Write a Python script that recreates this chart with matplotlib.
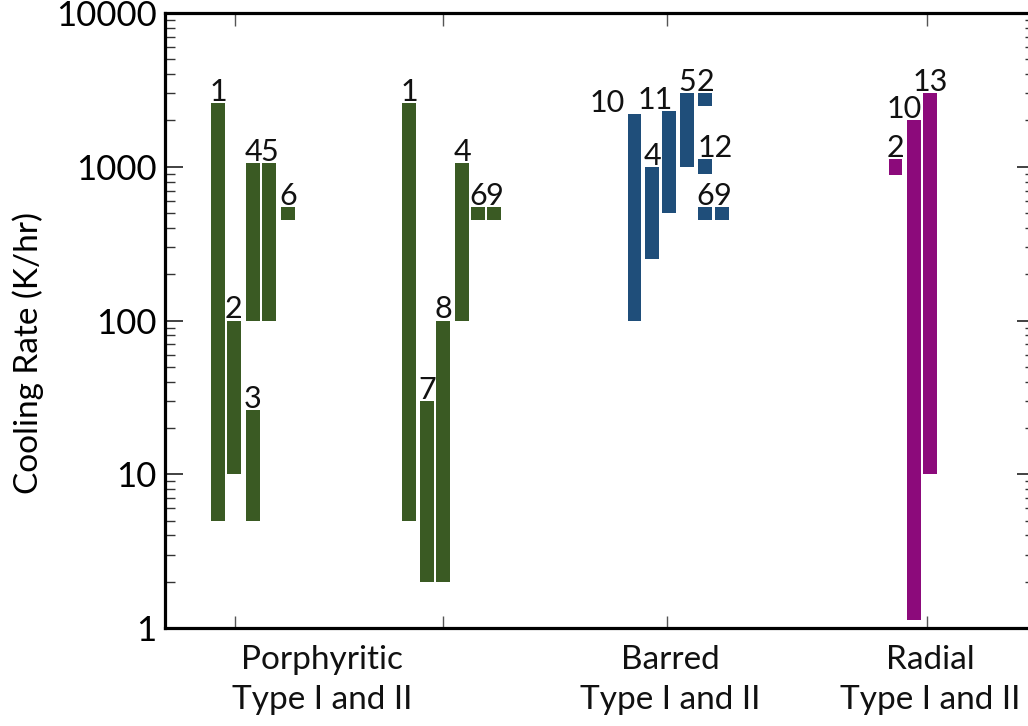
import numpy as np
import matplotlib
matplotlib.use("Agg")
import matplotlib.pyplot as plt
import matplotlib.transforms as mtransforms

plt.rcParams['font.family'] = ['Lato', 'DejaVu Sans']

# porphyritic, first column set
p1_labels = ['1', '2', '3', '4', '5', '6']
p1_low = [5, 10, 5, 100, 100, 450]
p1_high = [2600, 100, 26, 1060, 1060, 550]

# porphyritic, second column set
p2_labels = ['1', '7', '8', '4', '6', '9']
p2_low = [5, 2, 2, 100, 450, 450]
p2_high = [2600, 30, 100, 1060, 550, 550]

# barred
b_labels = ['10', '4', '11', '5', '2', '12', '6', '9']
b_low = [100, 250, 500, 1000, 2500, 900, 450, 450]
b_high = [2200, 1000, 2300, 3000, 3000, 1120, 550, 550]

# radial
r_labels = ['2', '10', '13']
r_low = [880, 1.12, 10]
r_high = [1130, 2000, 3000]

categories = ['Porphyritic\nType I and II', 'Barred\nType I and II', 'Radial\nType I and II']
yticks = [1, 10, 100, 1000, 10000]

# layout (x in axis units)
p1_pos = [218, 234, 253, 253, 269, 288]
p2_pos = [409, 427, 443, 462, 478, 494]
b_pos = [634.5, 652, 669, 687, 705, 705, 705, 722]
r_pos = [895.5, 914, 930]
# label shifts (points)
p1_shift = [0, -0.5, 0, 0, 0, 0]
p2_shift = [0, 0, 0, 0, 0, 0]
b_shift = [-19.5, 0, -10, 0, 0, 7, 0, 0]
r_shift = [0, -7, 0]
xtick_pos = [235, 443, 667, 927]
cat_pos = [322, 670, 930]

green = '#3A5A23'
blue = '#1F4E7A'
magenta = '#8C0A7B'

fig = plt.figure(figsize=(10.28, 7.26), dpi=100)
ax = fig.add_axes([165/1028, 98/726, 870/1028, 615/726])

groups = [
    (p1_labels, p1_low, p1_high, p1_pos, p1_shift, green),
    (p2_labels, p2_low, p2_high, p2_pos, p2_shift, green),
    (b_labels, b_low, b_high, b_pos, b_shift, blue),
    (r_labels, r_low, r_high, r_pos, r_shift, magenta),
]
for labels, lo, hi, pos, shift, col in groups:
    lo = np.array(lo, dtype=float)
    hi = np.array(hi, dtype=float)
    ax.bar(pos, hi - lo, bottom=lo, width=13.5, color=col, linewidth=0)
    for lab, x, top, dx in zip(labels, pos, hi, shift):
        ax.annotate(lab, (x, top), xytext=(dx, 1.5), textcoords='offset points',
                    ha='center', va='baseline', fontsize=22, color='#111111')

ax.set_yscale('log')
ax.set_ylim(1, 10000)
ax.set_xlim(165, 1035)
ax.set_yticks(yticks)
ax.set_yticklabels([str(v) for v in yticks], fontsize=25)
ax.set_xticks(xtick_pos)
ax.set_xticklabels([])

ax.tick_params(axis='y', which='major', direction='in', length=13, width=1.3,
               color='#333333', left=True, right=True, pad=6)
ax.tick_params(axis='y', which='minor', direction='in', length=7, width=1.0,
               color='#333333', left=True, right=True)
ax.tick_params(axis='x', which='major', direction='in', length=9, width=1.0,
               color='#555555', top=True, bottom=True)
ax.tick_params(axis='x', which='minor', bottom=False, top=False)

for s in ax.spines.values():
    s.set_linewidth(2.3)
    s.set_color('black')

trans = mtransforms.blended_transform_factory(ax.transData, ax.transAxes)
for name, x in zip(categories, cat_pos):
    ax.text(x, -0.028, name, transform=trans, ha='center', va='top',
            fontsize=24, linespacing=1.4, color='#111111')

ax.set_ylabel('Cooling Rate (K/hr)', fontsize=24)
ax.yaxis.set_label_coords(-0.139, 0.447)

fig.savefig('out.png', dpi=100)
